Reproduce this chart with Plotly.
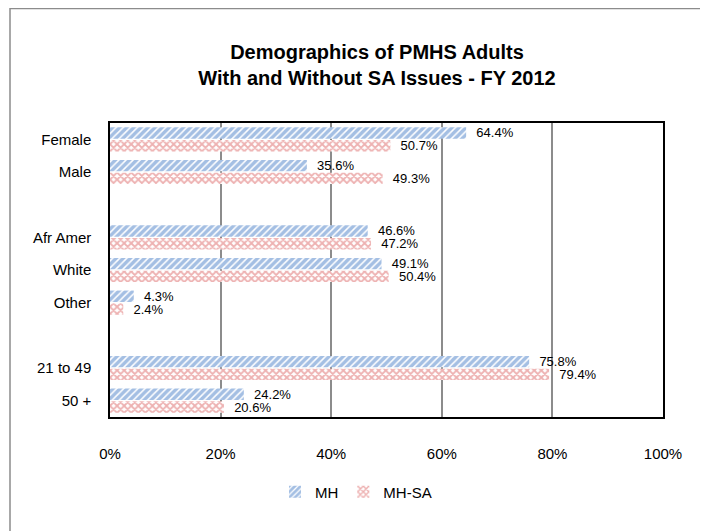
import plotly.graph_objects as go

categories = ["Female", "Male", " ", "Afr Amer", "White", "Other", "  ", "21 to 49", "50 +"]
mh = [64.4, 35.6, None, 46.6, 49.1, 4.3, None, 75.8, 24.2]
mh_sa = [50.7, 49.3, None, 47.2, 50.4, 2.4, None, 79.4, 20.6]
x_ticks = [0, 20, 40, 60, 80, 100]
x_tick_labels = ["0%", "20%", "40%", "60%", "80%", "100%"]

FONT = "Liberation Sans, Arial, sans-serif"

def labels(vals):
    return ["" if v is None else f"  {v:.1f}%" for v in vals]

fig = go.Figure()
fig.add_trace(go.Bar(
    y=categories, x=mh, name="MH", orientation="h",
    marker=dict(color="white", line=dict(width=0),
                pattern=dict(shape="/", fgcolor="#4A7FC8", bgcolor="white", size=5, solidity=0.7)),
    text=labels(mh), textposition="outside", cliponaxis=False, constraintext="none",
    textfont=dict(size=13, color="black", family=FONT),
))
fig.add_trace(go.Bar(
    y=categories, x=mh_sa, name="MH-SA", orientation="h",
    marker=dict(color="white", line=dict(width=0),
                pattern=dict(shape="x", fgcolor="#DC6464", bgcolor="white", size=5, solidity=0.6)),
    text=labels(mh_sa), textposition="outside", cliponaxis=False, constraintext="none",
    textfont=dict(size=13, color="black", family=FONT),
))

# figure is drawn with an 8px page margin, so coordinates are page - 8
OFF = 8
L, R, T, B = 110 - OFF, 663 - OFF, 123 - OFF, 417 - OFF
W, H = 708 - OFF, 531 - OFF
pw, ph = R - L, B - T

def px(x):
    return (x - OFF - L) / pw

def py(y):
    return (B - (y - OFF)) / ph

fig.update_layout(
    width=W, height=H,
    margin=dict(l=L, r=W - R, t=T, b=H - B),
    paper_bgcolor="white", plot_bgcolor="white",
    barmode="group", bargap=0.22, bargroupgap=0.1,
    font=dict(family=FONT, size=14, color="black"),
    title=dict(text="<b>Demographics of PMHS Adults<br>With and Without SA Issues - FY 2012</b>",
               x=(377 - OFF) / W, xanchor="center", y=1 - (59 - OFF) / H, yanchor="middle",
               font=dict(size=20, family=FONT, color="black")),
    xaxis=dict(range=[0, 100], tickvals=x_ticks, ticktext=x_tick_labels,
               showgrid=True, gridcolor="#8C8C8C", gridwidth=1.5,
               showline=True, linecolor="black", linewidth=1.5, mirror=True,
               ticks="", ticklabelstandoff=22, zeroline=False,
               tickfont=dict(size=15)),
    yaxis=dict(autorange="reversed", categoryorder="array", categoryarray=categories,
               showline=True, linecolor="black", linewidth=1.5, mirror=True,
               ticks="", ticklabelstandoff=14, tickfont=dict(size=15)),
    legend=dict(orientation="h", x=(356 - OFF) / W, xanchor="center", xref="container",
                y=1 - (492 - OFF) / H, yanchor="middle", yref="container",
                font=dict(size=15), traceorder="normal", itemwidth=30),
    showlegend=True,
    shapes=[dict(type="rect", xref="paper", yref="paper",
                 x0=px(10), x1=px(705), y0=py(540), y1=py(8.5),
                 line=dict(color="#8C8C8C", width=1.5), fillcolor="rgba(0,0,0,0)", layer="below")],
)

fig.write_html("out.html")
